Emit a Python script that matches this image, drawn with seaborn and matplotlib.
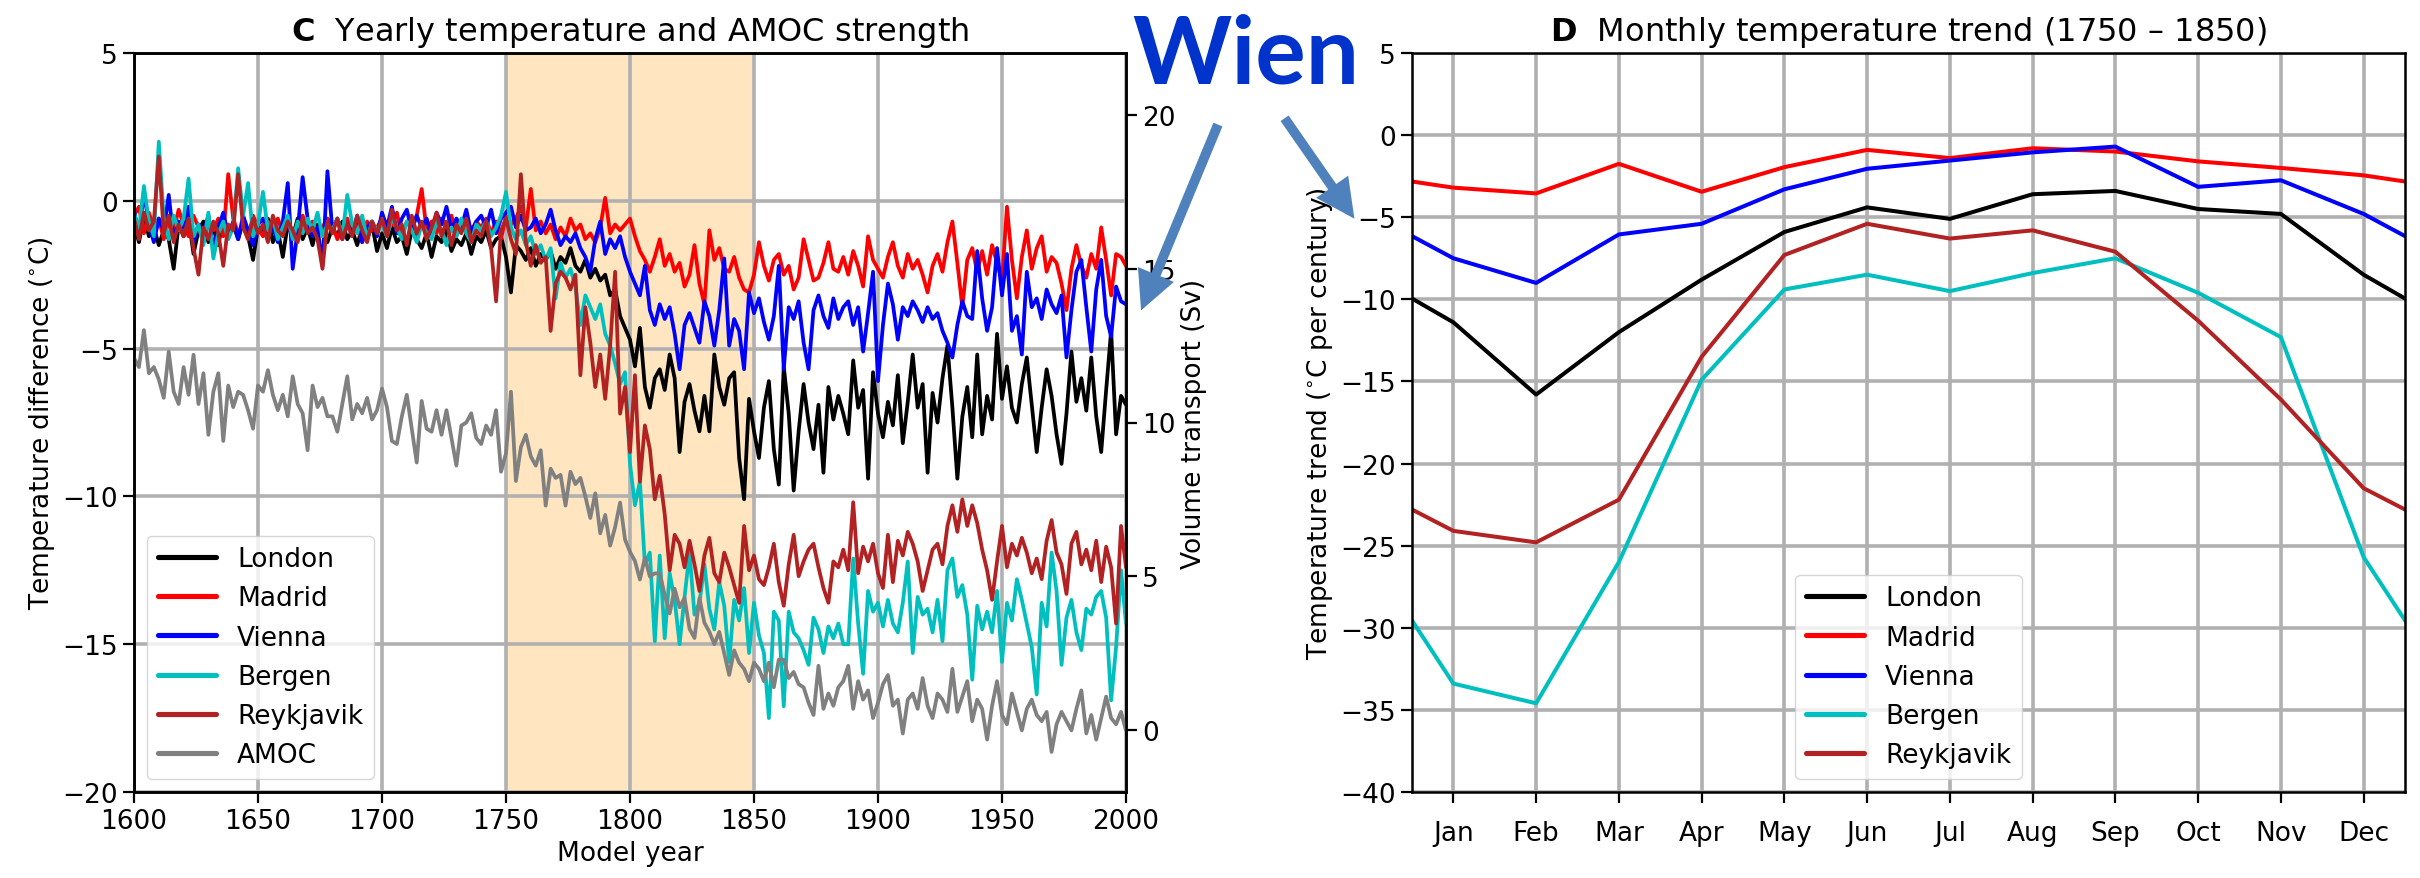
import numpy as np
import pandas as pd
import matplotlib
matplotlib.use("Agg")
import matplotlib.pyplot as plt
import seaborn as sns
from matplotlib.lines import Line2D
from matplotlib.patches import FancyArrowPatch

# ---------------- data: panel C (every 2 model years, 1600-2000) ----------------
years = np.arange(1600, 2001, 2)

london = [
    -0.8, -1.4, -0.5, -1.2, -0.9, -1.5, -1.0, -1.3, -2.3, -0.8,
    -1.2, -0.6, -1.8, -1.0, -0.7, -1.4, -0.9, -1.5, -0.6, -1.1,
    -0.8, -1.3, -0.7, -1.2, -2.0, -0.9, -1.1, -0.6, -1.4, -1.0,
    -1.9, -0.8, -1.2, -0.6, -1.3, -0.9, -1.5, -0.8, -1.1, -1.4,
    -0.9, -1.2, -0.7, -1.3, -1.0, -1.5, -0.9, -1.3, -0.8, -1.7,
    -1.1, -1.6, -0.9, -1.4, -1.2, -1.8, -1.0, -1.3, -1.6, -1.1,
    -1.9, -1.2, -1.4, -1.0, -1.7, -1.3, -1.5, -1.1, -1.8, -1.2,
    -1.4, -1.0, -1.6, -1.3, -1.2, -1.9, -3.1, -1.5, -1.7, -2.0,
    -1.6, -2.2, -1.8, -2.0, -1.7, -2.3, -1.9, -2.1, -1.6, -2.2,
    -2.4, -2.0, -2.6, -2.3, -2.7, -2.5, -3.2, -3.0, -3.9, -4.3,
    -4.7, -5.6, -4.3, -6.3, -7.0, -6.0, -5.7, -6.4, -5.2, -6.0,
    -8.5, -6.8, -6.2, -7.1, -7.8, -6.6, -7.8, -5.2, -6.3, -6.9,
    -6.0, -5.8, -8.7, -10.1, -6.7, -7.8, -8.7, -7.0, -6.1, -8.4,
    -9.6, -5.6, -7.2, -9.8, -7.8, -6.2, -7.5, -8.4, -6.9, -9.2,
    -6.3, -7.4, -6.6, -7.2, -7.9, -5.4, -7.0, -6.4, -9.4, -5.8,
    -7.2, -8.0, -6.8, -7.6, -5.9, -8.2, -6.8, -5.2, -7.0, -6.2,
    -9.2, -6.5, -7.5, -6.0, -4.9, -7.0, -9.4, -7.3, -6.3, -8.0,
    -5.2, -7.9, -6.6, -7.4, -4.5, -6.7, -5.6, -7.0, -7.5, -6.2,
    -5.3, -6.9, -8.5, -7.0, -5.7, -6.6, -7.9, -8.9, -7.2, -5.1,
    -6.8, -6.0, -7.1, -5.3, -7.3, -8.5, -6.4, -4.4, -7.9, -6.6,
    -6.9]

madrid = [
    -0.5, -0.2, -1.1, -0.4, -0.9, -0.6, -1.3, -0.7, -1.0, -0.3,
    -0.8, -1.2, -0.5, -0.9, -1.4, -0.7, -1.0, -0.6, -1.2, 0.9,
    -0.6, -1.1, -0.8, -1.3, -0.5, -0.9, -1.2, -0.7, -1.0, -0.6,
    -1.1, -0.7, -1.3, -0.8, -0.5, -1.0, -0.7, -1.2, -0.9, -0.6,
    -0.8, -1.3, -0.9, -0.6, -1.1, -0.8, -1.4, -0.7, -1.0, -0.9,
    -0.6, -1.0, -0.8, -0.4, -1.2, -0.7, -0.9, -0.5, 0.4, -1.0,
    -0.7, -1.1, -0.6, -0.9, -0.5, -1.2, -0.8, -0.6, -1.0, -0.7,
    -0.9, -0.6, -1.1, -0.7, -1.3, -0.5, -0.8, -0.6, -0.2, -0.9,
    0.4, -1.0, -0.7, -1.1, -0.8, -1.3, -0.9, -1.2, -0.6, -1.0,
    -0.8, -1.3, -1.1, -1.4, -0.9, 0.1, -1.1, -0.8, -1.0, -0.8,
    -0.6, -1.2, -1.7, -2.0, -2.4, -1.9, -1.3, -2.2, -1.8, -2.4,
    -2.1, -2.9, -2.5, -1.5, -2.8, -3.5, -1.0, -2.0, -1.6, -2.3,
    -2.4, -1.9, -2.6, -3.0, -3.1, -2.5, -1.4, -2.2, -2.7, -2.0,
    -1.8, -2.5, -2.2, -3.0, -2.6, -1.3, -2.0, -2.7, -2.6, -2.1,
    -1.4, -2.3, -2.4, -1.9, -2.5, -1.7, -2.2, -2.9, -1.2, -2.0,
    -2.3, -2.6, -1.9, -1.4, -2.2, -2.6, -1.8, -2.3, -2.0, -2.5,
    -3.1, -2.2, -1.8, -2.4, -1.4, -0.7, -2.1, -3.6, -2.0, -1.6,
    -2.4, -1.7, -2.5, -1.5, -2.1, -2.7, -0.2, -2.0, -3.3, -1.9,
    -1.0, -2.3, -1.6, -1.2, -2.4, -1.9, -2.1, -2.8, -3.7, -2.3,
    -1.5, -2.2, -2.6, -1.8, -2.3, -0.9, -2.0, -3.2, -1.8, -1.9,
    -2.2]

vienna = [
    -0.3, -1.2, 0.3, -0.8, -1.4, -0.6, -1.0, 0.2, -1.3, -0.7,
    -0.9, -0.2, -1.4, -0.8, -1.1, -0.5, -1.6, -0.9, -0.4, -1.2,
    -0.7, -1.3, -0.5, -1.0, -1.5, -0.8, -0.6, -1.2, -0.9, -1.4,
    -0.7, 0.6, -2.3, -1.0, 0.8, -0.6, -1.2, -0.9, -2.2, 1.0,
    -1.0, -0.6, -1.3, -0.8, -1.1, -0.5, -1.4, -0.9, -0.7, -1.2,
    -0.4, -0.9, -0.2, -1.1, -0.6, -0.3, -1.0, -0.5, -0.9, -0.6,
    -1.2, -0.4, -0.8, -0.2, -1.0, -0.6, -0.9, -0.3, -1.1, -0.7,
    -0.5, -0.9, -0.3, -1.1, -0.6, -0.4, -0.2, -0.9, -0.5, -1.0,
    -0.9, -0.6, -1.1, -0.8, -0.3, -1.0, -1.5, -1.2, -1.4, -1.1,
    -1.6, -1.9, -2.4, -1.3, -0.7, -1.8, -1.3, -1.6, -1.2, -1.9,
    -2.4, -2.8, -3.2, -2.2, -3.7, -4.2, -3.5, -4.0, -3.6, -4.5,
    -5.7, -4.2, -3.8, -4.3, -4.8, -3.4, -3.9, -4.9, -3.7, -1.95,
    -4.9, -4.0, -4.4, -5.7, -3.1, -3.8, -3.3, -4.1, -4.7, -3.9,
    -2.2, -5.7, -3.6, -4.0, -3.4, -4.8, -5.7, -3.7, -3.2, -3.9,
    -4.3, -3.3, -4.0, -3.6, -3.4, -4.2, -3.6, -5.1, -3.8, -2.4,
    -6.1, -4.2, -2.8, -3.5, -4.7, -3.6, -3.9, -3.4, -3.7, -4.1,
    -3.6, -4.0, -3.8, -4.4, -4.8, -5.3, -4.2, -3.4, -3.9, -4.0,
    -1.7, -3.3, -4.4, -3.6, -1.6, -3.2, -1.8, -4.4, -3.9, -5.2,
    -2.4, -3.6, -3.3, -4.0, -3.0, -3.5, -3.8, -3.2, -5.3, -3.7,
    -2.4, -2.0, -3.6, -5.1, -3.0, -2.0, -3.9, -4.6, -2.9, -3.4,
    -3.5]

bergen = [
    -0.4, -1.0, 0.5, -0.7, -1.2, 2.0, -0.6, -1.3, -0.5, -1.0,
    -0.6, 0.75, -1.2, -0.8, -1.5, -0.4, -1.95, -1.1, -0.7, -1.3,
    -0.9, 1.1, -0.5, 0.6, -1.2, -0.8, 0.3, -1.0, -0.6, -1.3,
    -0.9, -0.5, -1.3, -0.7, -1.1, -0.6, -1.0, -0.4, -1.2, -0.8,
    -1.0, -0.6, -1.2, 0.2, -0.8, -1.1, -0.5, -1.3, -0.7, -1.0,
    -0.8, -1.2, -0.6, -0.9, -1.3, -0.7, -1.0, -1.4, -0.8, -1.1,
    -1.3, -0.7, -1.0, -1.5, -0.9, -1.2, -0.6, -1.1, -1.4, -0.8,
    -1.0, -0.7, -1.2, -0.9, -0.5, 0.3, -0.9, -1.3, -1.0, -1.5,
    -1.2, -1.8, -1.5, -2.0, -1.6, -3.3, -2.1, -2.6, -2.3, -2.9,
    -4.2, -3.2, -3.6, -4.0, -3.5, -4.5, -4.9, -5.5, -6.2, -5.8,
    -8.9, -10.3, -9.5, -12.3, -11.9, -14.9, -12.0, -14.8, -12.6, -13.5,
    -15.0, -13.4, -11.9, -14.0, -13.6, -12.3, -13.8, -14.5, -12.9, -13.7,
    -15.6, -13.5, -14.2, -13.1, -15.3, -13.6, -14.7, -15.3, -17.5, -13.9,
    -14.2, -17.1, -13.9, -14.6, -14.8, -15.2, -15.7, -14.1, -14.5, -15.3,
    -14.4, -14.8, -14.3, -15.0, -15.0, -12.1, -14.3, -16.0, -13.2, -13.9,
    -13.6, -14.4, -13.5, -14.3, -14.6, -13.6, -12.2, -15.3, -13.4, -14.0,
    -13.8, -14.6, -13.5, -14.9, -12.5, -12.1, -13.4, -13.0, -14.0, -16.2,
    -13.7, -14.5, -13.9, -14.6, -13.2, -15.6, -13.6, -14.2, -12.8, -13.5,
    -14.3, -15.1, -16.7, -13.6, -14.4, -11.9, -13.2, -15.7, -14.1, -13.5,
    -14.6, -15.2, -13.8, -14.0, -13.4, -13.2, -14.1, -16.9, -15.1, -12.5,
    -14.3]

reykjavik = [
    -0.6, -1.3, -0.4, -1.0, -0.7, 1.5, -1.1, -0.5, -1.4, -0.8,
    -1.2, -0.6, -1.6, -2.5, -0.9, -1.3, -0.7, -1.1, -2.2, -0.8,
    -1.0, 0.9, -0.9, -1.3, -0.6, -1.1, -0.8, -1.4, -0.5, -1.0,
    -1.2, -0.7, -1.0, -1.4, -0.6, -1.1, -0.9, -1.3, -2.3, -0.7,
    -1.1, -0.6, -1.3, -0.8, -1.2, -0.5, -1.0, -1.4, -0.7, -1.1,
    -0.6, -1.2, -0.3, -1.0, -0.8, -1.5, -0.5, -1.1, -0.7, -1.3,
    -0.9, -0.4, -1.2, -0.7, -1.5, -0.8, -1.1, -0.6, -1.4, -1.0,
    -1.2, -0.7, -1.6, -3.4, -1.0, -0.6, -1.3, -1.8, 0.9, -1.4,
    -2.2, -1.5, -2.1, -1.9, -4.4, -2.8, -2.4, -2.6, -3.0, -2.5,
    -5.9, -3.6, -4.8, -6.3, -5.2, -6.7, -4.9, -2.4, -7.2, -6.3,
    -8.5, -5.9, -9.5, -7.6, -8.4, -10.1, -9.3, -10.6, -12.5, -11.3,
    -11.6, -12.4, -11.5, -12.3, -13.2, -12.0, -11.4, -12.6, -12.9, -11.9,
    -12.4, -13.0, -13.6, -11.0, -12.5, -12.0, -12.8, -13.0, -12.4, -11.6,
    -12.9, -13.7, -12.3, -11.3, -12.7, -12.2, -11.8, -11.6, -12.4, -13.1,
    -13.6, -12.2, -12.4, -11.8, -12.5, -10.2, -12.6, -11.7, -12.2, -11.6,
    -12.6, -13.1, -11.3, -12.9, -11.5, -12.0, -11.2, -11.6, -12.2, -13.2,
    -12.5, -11.8, -11.6, -12.3, -11.0, -10.3, -11.2, -10.1, -11.0, -10.3,
    -10.9, -11.8, -12.5, -13.5, -12.2, -11.0, -12.4, -11.6, -12.0, -11.4,
    -11.9, -12.6, -12.1, -12.8, -11.5, -10.8, -11.9, -12.3, -13.3, -11.6,
    -11.2, -12.3, -11.8, -12.5, -11.5, -12.9, -11.7, -12.4, -14.3, -11.0,
    -12.4]

amoc = [
    12.1, 11.8, 13.0, 11.6, 11.8, 11.4, 10.8, 12.3, 11.0, 10.6,
    11.8, 10.9, 12.2, 10.6, 11.6, 9.6, 11.0, 11.6, 9.4, 11.2,
    10.5, 11.0, 10.9, 10.4, 9.8, 11.2, 11.0, 11.7, 10.9, 10.4,
    10.9, 10.2, 11.5, 10.6, 10.3, 9.1, 11.2, 10.5, 10.8, 10.2,
    10.2, 9.7, 10.6, 11.5, 10.1, 10.6, 10.3, 10.8, 10.1, 10.4,
    11.1, 10.5, 9.4, 9.3, 10.2, 10.9, 9.8, 8.7, 10.7, 9.8,
    9.7, 10.4, 9.6, 10.4, 9.5, 8.6, 9.9, 10.0, 10.3, 9.5,
    9.3, 9.9, 9.6, 10.4, 8.4, 9.0, 11.0, 8.1, 9.2, 9.6,
    8.9, 8.6, 9.1, 7.3, 8.5, 8.2, 8.3, 7.3, 8.4, 8.0,
    8.2, 7.6, 6.9, 7.7, 6.4, 7.0, 6.0, 6.6, 7.4, 6.2,
    5.8, 5.5, 4.9, 5.6, 5.0, 5.1, 5.1, 4.4, 3.8, 4.6,
    4.0, 4.3, 3.3, 3.0, 4.3, 3.5, 3.2, 2.8, 3.2, 2.5,
    1.8, 2.6, 2.2, 2.0, 1.6, 2.2, 2.0, 1.6, 2.2, 1.4,
    2.3, 2.3, 1.7, 1.9, 1.5, 1.4, 0.9, 0.5, 2.1, 0.7,
    1.2, 0.8, 1.4, 1.6, 2.1, 0.7, 1.6, 1.0, 1.3, 0.4,
    0.9, 1.5, 1.8, 0.8, 1.0, -0.1, 1.0, 1.2, 0.7, 1.7,
    0.8, 0.4, 1.2, 1.0, 0.6, 2.0, 0.6, 1.1, 1.6, 0.3,
    1.0, 0.7, -0.3, 0.8, 1.6, 0.5, 0.2, 1.2, 0.6, 0.0,
    0.7, 1.0, 0.5, 0.3, 0.6, -0.7, 0.2, 0.6, 0.3, 0.0,
    0.7, 1.3, -0.1, 0.5, -0.3, 0.4, 1.1, 0.4, 0.2, 0.6,
    0.0]

cities = ["London", "Madrid", "Vienna", "Bergen", "Reykjavik"]
city_colors = ["black", "red", "blue", "c", "firebrick"]
amoc_color = "gray"

# ---------------- data: panel D (monthly trend 1750-1850) ----------------
months = ["Jan", "Feb", "Mar", "Apr", "May", "Jun",
          "Jul", "Aug", "Sep", "Oct", "Nov", "Dec"]
trend_london = [-11.4, -15.8, -12.0, -8.8, -5.9, -4.4, -5.1, -3.6, -3.4, -4.5, -4.8, -8.5]
trend_madrid = [-3.2, -3.55, -1.75, -3.45, -1.95, -0.9, -1.4, -0.8, -1.0, -1.6, -2.0, -2.45]
trend_vienna = [-7.5, -9.0, -6.05, -5.4, -3.3, -2.05, -1.55, -1.05, -0.7, -3.15, -2.75, -4.8]
trend_bergen = [-33.4, -34.6, -26.0, -14.9, -9.4, -8.5, -9.5, -8.4, -7.5, -9.6, -12.3, -25.7]
trend_reykjavik = [-24.1, -24.8, -22.2, -13.5, -7.3, -5.4, -6.3, -5.8, -7.1, -11.3, -16.1, -21.5]

# ---------------- styling ----------------
sns.set_style("white")
plt.rcParams["font.family"] = ["DejaVu Sans"]
plt.rcParams["axes.unicode_minus"] = True
for key in ["text.color", "axes.labelcolor", "xtick.color", "ytick.color", "axes.edgecolor"]:
    plt.rcParams[key] = "black"

FS = 19
GRID = dict(color="#b0b0b0", lw=2.6)
LW_C = 2.7
LW_D = 2.9

W, H = 2420, 879
fig = plt.figure(figsize=(W / 100, H / 100), dpi=100)
ax = fig.add_axes([134 / W, 86 / H, 992 / W, 739 / H])
axd = fig.add_axes([1412 / W, 86 / H, 993 / W, 739 / H])

# ---------------- panel C ----------------
temp_df = pd.DataFrame({
    "year": np.tile(years, len(cities)),
    "temp": np.concatenate([london, madrid, vienna, bergen, reykjavik]),
    "city": np.repeat(cities, len(years)),
})
palette = dict(zip(cities, city_colors))

ax.axvspan(1750, 1850, color="#FFE6C0", zorder=0.2, lw=0)
sns.lineplot(data=temp_df, x="year", y="temp", hue="city", hue_order=cities,
             palette=palette, lw=LW_C, ax=ax, legend=False, errorbar=None, sort=False)
ax.set_xlim(1600, 2000)
ax.set_ylim(-20, 5)
ax.set_xticks(np.arange(1600, 2001, 50))
ax.set_yticks(np.arange(-20, 6, 5))
ax.set_axisbelow(True)
ax.grid(True, **GRID)
ax.set_xlabel("Model year", fontsize=FS)
ax.set_ylabel(r"Temperature difference ($^{\circ}$C)", fontsize=FS)
ax.set_title(r"$\mathbf{C}$  Yearly temperature and AMOC strength", fontsize=23, pad=9)

ax2 = ax.twinx()
sns.lineplot(x=years, y=amoc, color=amoc_color, lw=LW_C, ax=ax2, errorbar=None)
ax2.set_ylim(-2, 22)
ax2.set_yticks(np.arange(0, 21, 5))
ax2.set_ylabel("Volume transport (Sv)", fontsize=FS)
ax2.grid(False)

handles = [Line2D([], [], color=c, lw=LW_C + 1.0) for c in city_colors + [amoc_color]]
ax.legend(handles, cities + ["AMOC"], loc="lower left", fontsize=FS,
          handlelength=2.2, framealpha=0.8)

for a in (ax, ax2):
    a.tick_params(labelsize=FS, length=8, width=1.6, direction="out", colors="black")
    for s in a.spines.values():
        s.set_linewidth(1.8)
        s.set_color("black")
ax.tick_params(left=True, bottom=True)
ax2.tick_params(right=True)

# ---------------- panel D ----------------
xpos = np.arange(0, 14)
rows = []
for name, vals in zip(cities, [trend_london, trend_madrid, trend_vienna,
                               trend_bergen, trend_reykjavik]):
    wrapped = [vals[-1]] + list(vals) + [vals[0]]
    for x, v in zip(xpos, wrapped):
        rows.append((x, v, name))
mdf = pd.DataFrame(rows, columns=["pos", "trend", "city"])
sns.lineplot(data=mdf, x="pos", y="trend", hue="city", hue_order=cities,
             palette=palette, lw=LW_D, ax=axd, legend=False, errorbar=None, sort=False)
axd.set_xlim(0.5, 12.5)
axd.set_ylim(-40, 5)
axd.set_xticks(np.arange(1, 13))
axd.set_xticklabels(months)
axd.set_yticks(np.arange(-40, 6, 5))
axd.set_axisbelow(True)
axd.grid(True, **GRID)
axd.set_xlabel("")
axd.set_ylabel(r"Temperature trend ($^{\circ}$C per century)", fontsize=FS)
axd.set_title(r"$\mathbf{D}$  Monthly temperature trend (1750 – 1850)", fontsize=23, pad=9)
handles_d = [Line2D([], [], color=c, lw=LW_D + 0.8) for c in city_colors]
axd.legend(handles_d, cities, loc="lower center", fontsize=FS,
           handlelength=2.2, framealpha=0.8)
axd.tick_params(labelsize=FS, length=8, width=1.6, direction="out", left=True,
                bottom=True, colors="black")
axd.tick_params(axis="x", pad=12)
for s in axd.spines.values():
    s.set_linewidth(1.8)
    s.set_color("black")

# ---------------- "Wien" annotation ----------------
fig.text(1246 / W, 1 - 84 / H, "Wien", fontsize=68, fontweight="bold",
         family=["Lato", "DejaVu Sans"], color="#0033CC", ha="center", va="baseline")
arrow_style = "simple,head_length=2.0,head_width=2.0,tail_width=0.5"
for (x0, y0), (x1, y1) in [((1219, 123), (1140, 314)), ((1283, 117), (1356, 222))]:
    fig.add_artist(FancyArrowPatch((x0 / W, 1 - y0 / H), (x1 / W, 1 - y1 / H),
                                   transform=fig.transFigure, arrowstyle=arrow_style,
                                   mutation_scale=14, color="#4F81BD", lw=0))

fig.savefig("out.png", dpi=100)
